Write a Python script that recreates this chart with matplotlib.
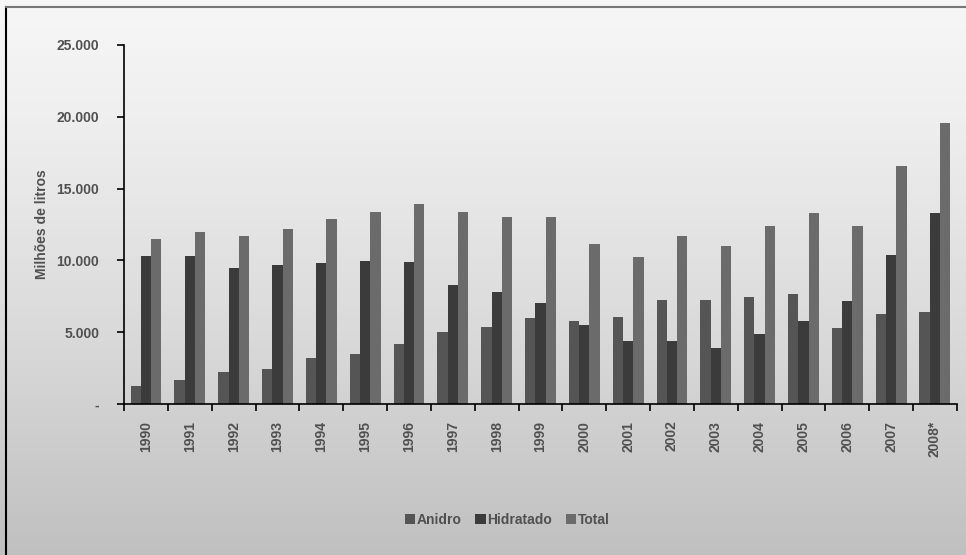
import matplotlib.pyplot as plt
import matplotlib.lines as mlines
import numpy as np

plt.rcParams['font.family'] = ['Liberation Sans', 'DejaVu Sans']

# anos e producao (milhoes de litros)
anos = ['1990', '1991', '1992', '1993', '1994', '1995', '1996', '1997', '1998', '1999',
        '2000', '2001', '2002', '2003', '2004', '2005', '2006', '2007', '2008*']
anidro = [1250, 1670, 2250, 2460, 3180, 3480, 4160, 5000, 5360, 6000,
          5780, 6040, 7260, 7260, 7450, 7660, 5270, 6260, 6380]
hidratado = [10280, 10280, 9500, 9680, 9800, 9980, 9870, 8300, 7800, 7000,
             5500, 4370, 4370, 3880, 4870, 5780, 7160, 10380, 13280]
total = [11500, 11980, 11700, 12190, 12900, 13400, 13900, 13400, 13050, 13050,
         11140, 10240, 11700, 11000, 12400, 13280, 12370, 16600, 19600]

y_ticks = [0, 5000, 10000, 15000, 20000, 25000]
y_labels = ['-', '5.000', '10.000', '15.000', '20.000', '25.000']

text_color = '#505050'
fs = 10

fig = plt.figure(figsize=(9.66, 5.55), dpi=100)

# fundo em degrade
bg = fig.add_axes([0, 0, 1, 1], zorder=-10)
grad = np.linspace(0, 1, 256).reshape(-1, 1)
bg.imshow(grad, aspect='auto', cmap='Greys', vmin=-0.25, vmax=3.2,
          extent=[0, 1, 0, 1], origin='upper')
bg.set_axis_off()

ax = fig.add_axes([0.1285, 0.272, 0.862, 0.647])
ax.set_facecolor('none')

x = np.arange(len(anos))
w = 0.235
ax.bar(x - w, anidro, w, color='#555555', label='Anidro')
ax.bar(x, hidratado, w, color='#3b3b3b', label='Hidratado')
ax.bar(x + w, total, w, color='#6b6b6b', label='Total')

ax.set_xlim(-0.5, len(anos) - 0.5)
ax.set_ylim(0, 25000)
ax.set_yticks(y_ticks)
ax.set_yticklabels(y_labels, fontsize=fs, fontweight='bold', color=text_color)
ax.set_xticks(x)
ax.set_xticklabels(anos, rotation=90, fontsize=fs, fontweight='bold', color=text_color)
ax.tick_params(axis='x', length=0, pad=12)
ax.set_xticks(np.arange(len(anos) + 1) - 0.5, minor=True)
ax.tick_params(axis='x', which='minor', length=5, width=1.2, color='black')
ax.tick_params(axis='y', length=5, width=1.2, color='black', pad=13)

for s in ['top', 'right']:
    ax.spines[s].set_visible(False)
for s in ['left', 'bottom']:
    ax.spines[s].set_linewidth(1.2)

ax.set_ylabel('Milhões de litros', fontsize=fs, fontweight='bold', color=text_color, labelpad=5)

ax.legend(loc='center', bbox_to_anchor=(0.46, -0.323), ncol=3, frameon=False,
          prop={'weight': 'bold', 'size': fs}, handlelength=0.75, handleheight=0.75,
          handletextpad=0.1, columnspacing=1.0, labelcolor=text_color)

# moldura
fig.add_artist(mlines.Line2D([0.006, 0.006], [0, 0.988], color='black', lw=1.5))
fig.add_artist(mlines.Line2D([0.006, 1], [0.988, 0.988], color='#777777', lw=1.5))

fig.savefig('out.png', dpi=100)
